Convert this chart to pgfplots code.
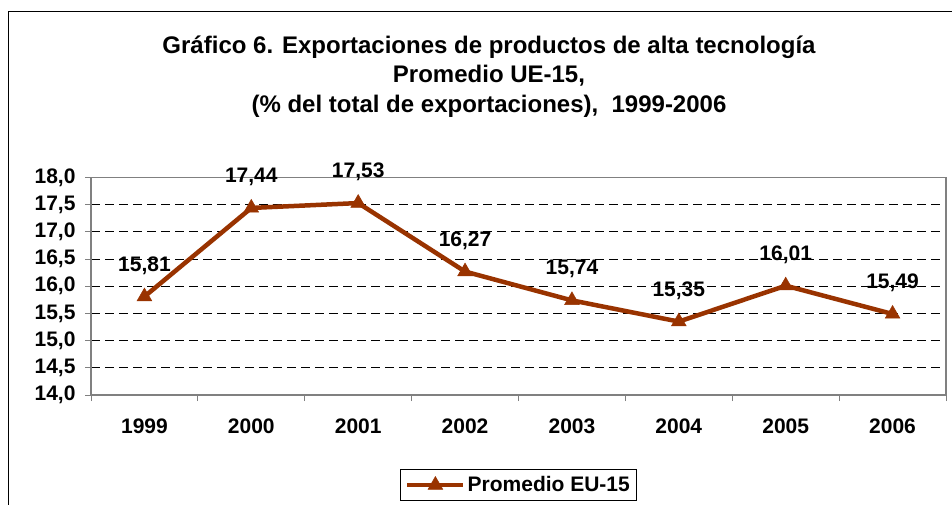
\documentclass[border=0pt]{standalone}
\usepackage{pgfplots}
\pgfplotsset{compat=1.18}
\usepackage{fontspec}
\setmainfont{Liberation Sans}
\definecolor{lc}{HTML}{993300}
\definecolor{ax}{HTML}{808080}
\begin{document}
\begin{tikzpicture}[x=1pt,y=1pt]
\useasboundingbox (0,0) rectangle (952,504);
\fill[white] (0,0) rectangle (952,504);
\draw[black, line width=1pt] (8,-5) -- (8,492) -- (960,492);
\node[anchor=base, font=\fontsize{24}{28}\selectfont\bfseries] at (489,450) {Gráfico 6. Exportaciones de productos de alta tecnología};
\node[anchor=base, font=\fontsize{24}{28}\selectfont\bfseries] at (489,421) {Promedio UE-15,};
\node[anchor=base, font=\fontsize{24}{28}\selectfont\bfseries] at (489,391) {(\% del total de exportaciones),\ \ 1999-2006};
\begin{axis}[
  at={(91pt,109pt)}, anchor=south west,
  scale only axis, width=855pt, height=217.5pt,
  xmin=-0.5, xmax=7.5, ymin=14, ymax=18,
  axis line style={ax, line width=1.3pt},
  xtick={0,...,7},
  xticklabels={1999,2000,2001,2002,2003,2004,2005,2006},
  minor xtick={-0.5,0.5,...,7.5},
  major x tick style={draw=none},
  minor x tick style={ax, line width=1pt},
  minor tick length=6pt,
  ytick={14,14.5,...,18},
  y tick style={ax, line width=1pt},
  major tick length=6pt,
  tick align=outside,
  tick pos=left,
  ymajorgrids,
  major grid style={black, line width=0.8pt, dash pattern=on 9pt off 5pt},
  y tick label style={/pgf/number format/fixed, /pgf/number format/fixed zerofill, /pgf/number format/precision=1, /pgf/number format/use comma, /pgf/number format/assume math mode=true, xshift=-6pt},
  ticklabel style={font=\fontsize{21}{25}\selectfont\bfseries},
  x tick label style={yshift=-14pt},
  nodes near coords,
  every node near coord/.append style={font=\fontsize{21}{25}\selectfont\bfseries, black, anchor=center, yshift=31pt,
    /pgf/number format/fixed, /pgf/number format/fixed zerofill, /pgf/number format/precision=2, /pgf/number format/use comma, /pgf/number format/assume math mode=true},
  legend style={at={(0.5,-0.414)}, anchor=center, draw=black, line width=1pt,
    font=\fontsize{21}{25}\selectfont\bfseries, inner xsep=5pt, inner ysep=5pt},
  legend image code/.code={\draw[mark repeat=2,mark phase=2,#1] plot coordinates {(0pt,0pt) (28pt,0pt) (56pt,0pt)};},
]
\addplot[lc, line width=4.5pt, mark=triangle*, mark size=8.5pt, mark options={solid, line width=0.5pt}]
 coordinates {(0,15.81) (1,17.44) (2,17.53) (3,16.27) (4,15.74) (5,15.35) (6,16.01) (7,15.49)};
\addlegendentry{Promedio EU-15}
\end{axis}
\end{tikzpicture}
\end{document}
